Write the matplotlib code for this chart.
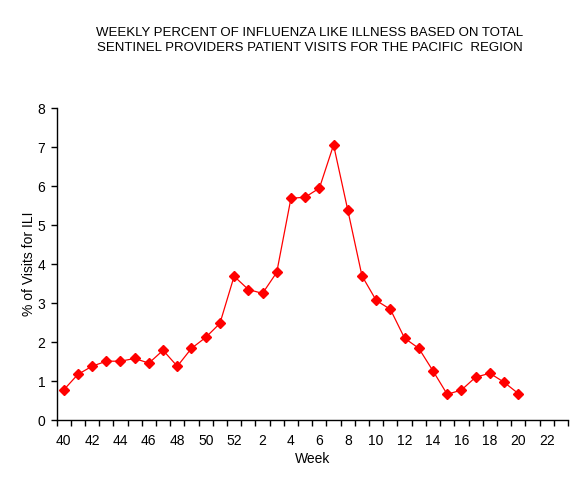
import matplotlib
matplotlib.use("Agg")
import matplotlib.pyplot as plt
import numpy as np

weeks = list(range(40, 53)) + list(range(1, 24))
ili_pct = [0.77, 1.17, 1.38, 1.51, 1.51, 1.58, 1.46, 1.79, 1.38, 1.84, 2.12, 2.48, 3.69,
           3.35, 3.25, 3.79, 5.69, 5.72, 5.95, 7.06, 5.39, 3.70, 3.07, 2.84, 2.10, 1.84,
           1.26, 0.66, 0.77, 1.10, 1.20, 0.97, 0.68]
title = "WEEKLY PERCENT OF INFLUENZA LIKE ILLNESS BASED ON TOTAL\nSENTINEL PROVIDERS PATIENT VISITS FOR THE PACIFIC  REGION"

plt.rcParams['font.family'] = ['Liberation Sans', 'DejaVu Sans']
fig = plt.figure(figsize=(5.87, 4.88), dpi=100)
ax = fig.add_axes([0.0963, 0.1393, 0.8713, 0.6387])

x = np.arange(len(ili_pct))
ax.plot(x, ili_pct, color='#ff0000', lw=0.9, marker='D', markersize=4.8,
        markerfacecolor='#ff0000', markeredgecolor='#ff0000')

n = len(weeks)
ax.set_xlim(-0.5, n - 0.5)
ax.set_ylim(0, 8)
ax.set_xticks(np.arange(n + 1) - 0.5)
ax.set_xticklabels([])
lab_idx = [i for i, w in enumerate(weeks) if w % 2 == 0]
ax.set_xticks(lab_idx, minor=True)
ax.set_xticklabels([str(weeks[i]) for i in lab_idx], minor=True)
ax.tick_params(axis='x', which='major', length=4, width=1, direction='out', color='black')
ax.tick_params(axis='x', which='minor', length=0, pad=10, labelsize=10)
ax.set_yticks(range(0, 9))
ax.tick_params(axis='y', length=4, width=1, direction='out', labelsize=10, pad=4)

for s in ['top', 'right']:
    ax.spines[s].set_visible(False)
for s in ['left', 'bottom']:
    ax.spines[s].set_linewidth(1)

ax.set_xlabel("Week", fontsize=10, labelpad=3)
ax.set_ylabel("% of Visits for ILI", fontsize=10, labelpad=1)
fig.text(0.528, 0.917, title, ha='center', va='center', fontsize=9.5, linespacing=1.3)

fig.savefig("out.png", dpi=100)
